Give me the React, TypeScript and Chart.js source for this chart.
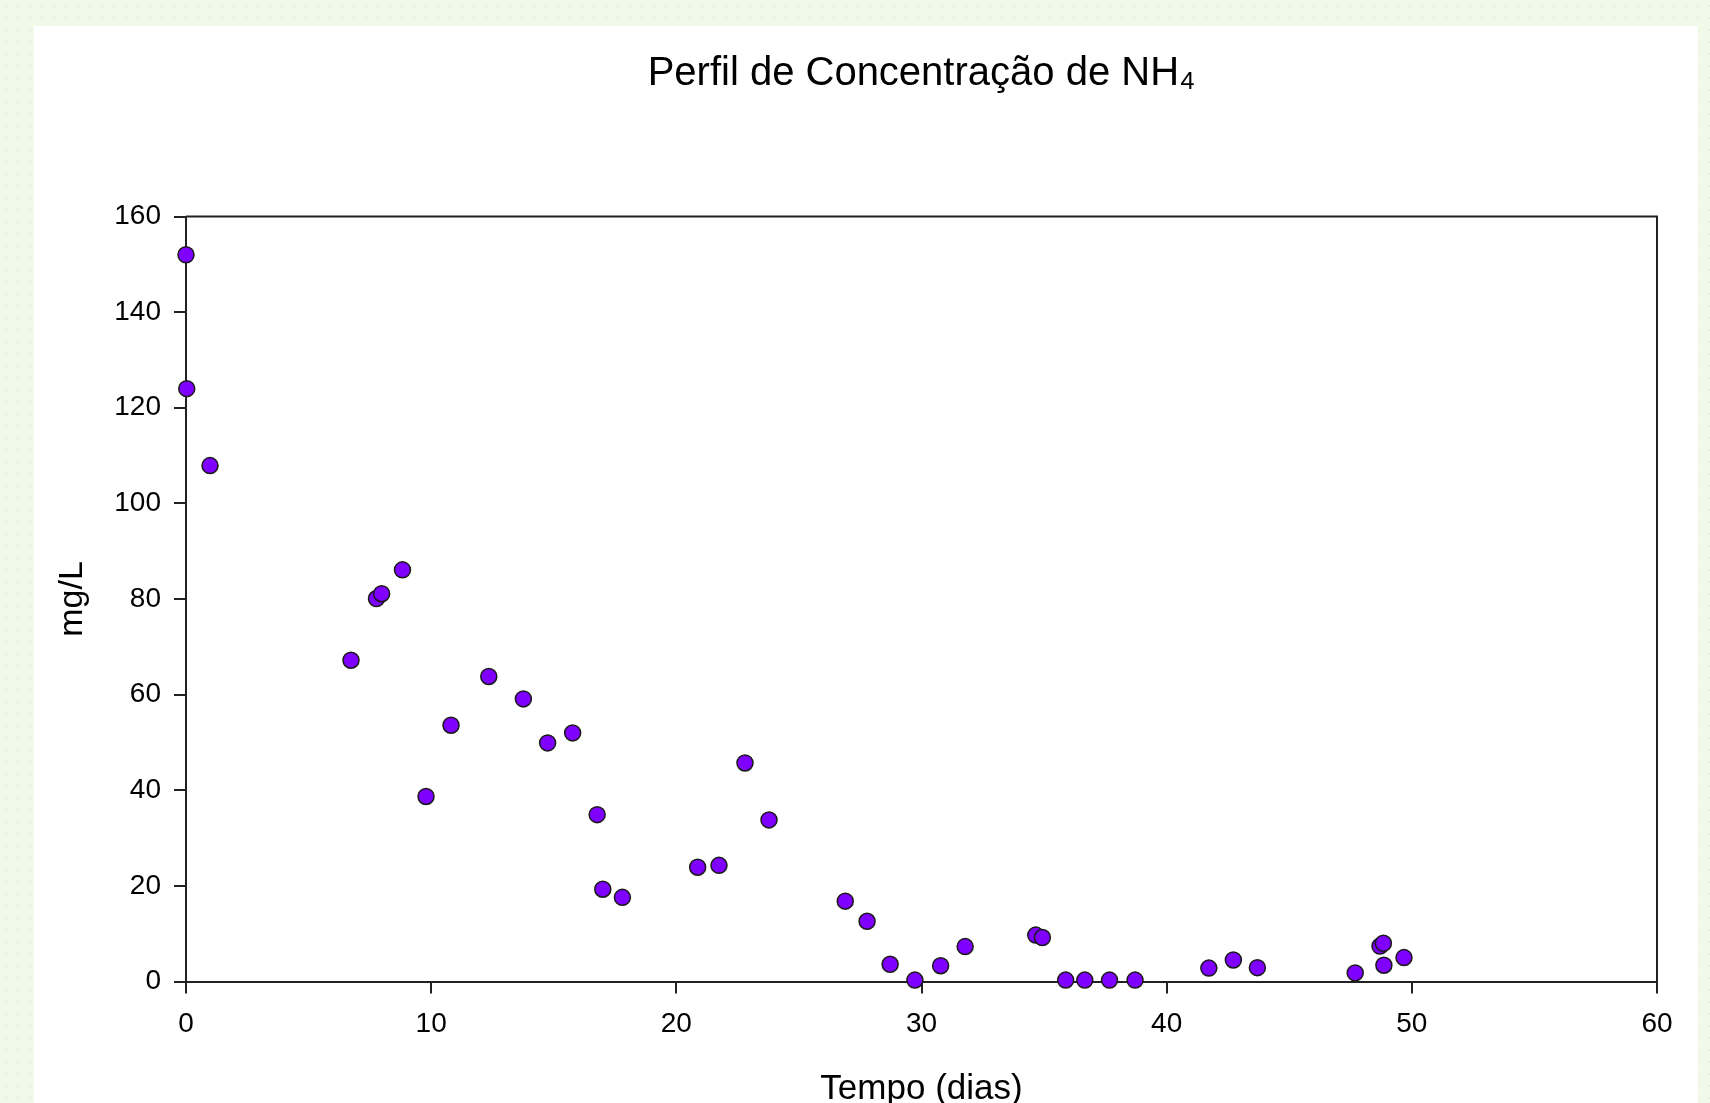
import React, { useEffect, useRef } from "react";
import { Chart, registerables } from "chart.js";

Chart.register(...registerables);

// ---- Data ----
const chartTitle = "Perfil de Concentração de NH₄";
const xAxisTitle = "Tempo (dias)";
const yAxisTitle = "mg/L";

const days: number[] = [
  0, 0.03, 0.98, 6.73, 7.77, 7.98, 8.83, 9.79, 10.81, 12.35,
  13.76, 14.75, 15.77, 16.77, 17.0, 17.8, 20.87, 21.74, 22.8, 23.78,
  26.89, 27.78, 28.72, 29.73, 30.78, 31.78, 34.66, 34.93, 35.88, 36.66,
  37.67, 38.71, 41.72, 42.72, 43.7, 47.69, 48.7, 48.84, 48.86, 49.68,
];
const nh4: number[] = [
  152.0, 124.0, 107.9, 67.2, 80.1, 81.1, 86.1, 38.7, 53.6, 63.8,
  59.1, 49.9, 52.0, 34.9, 19.3, 17.6, 23.9, 24.3, 45.7, 33.8,
  16.8, 12.6, 3.6, 0.3, 3.3, 7.3, 9.7, 9.2, 0.3, 0.3,
  0.3, 0.3, 2.8, 4.5, 2.9, 1.8, 7.4, 8.0, 3.4, 5.0,
];

const xMin = 0;
const xMax = 60;
const xStep = 10;
const yMin = 0;
const yMax = 160;
const yStep = 20;

const FONT = "'Liberation Sans', Arial, Helvetica, sans-serif";
const W = 1710;
const H = 1103;

const frameBox = {
  id: "frameBox",
  afterDatasetsDraw(chart: any) {
    const { ctx, chartArea } = chart;
    ctx.save();
    ctx.strokeStyle = "#222";
    ctx.lineWidth = 2;
    ctx.beginPath();
    ctx.moveTo(chartArea.left, chartArea.top);
    ctx.lineTo(chartArea.right, chartArea.top);
    ctx.lineTo(chartArea.right, chartArea.bottom);
    ctx.stroke();
    ctx.restore();
  },
};

export default function App() {
  const canvasRef = useRef<HTMLCanvasElement | null>(null);

  useEffect(() => {
    if (!canvasRef.current) return;
    const points = days.map((d, i) => ({ x: d, y: nh4[i] }));
    const chart = new Chart(canvasRef.current, {
      type: "scatter",
      data: {
        datasets: [
          {
            label: "NH4",
            data: points,
            pointRadius: 8,
            pointHoverRadius: 8,
            pointBackgroundColor: "#7f00ff",
            pointBorderColor: "#1a1a1a",
            pointBorderWidth: 1.5,
            clip: false,
          } as any,
        ],
      },
      options: {
        responsive: false,
        animation: false,
        devicePixelRatio: 1,
        layout: { padding: { left: 0, top: 0, right: W - 1657, bottom: 0 } },
        plugins: {
          legend: { display: false },
          tooltip: { enabled: false },
          title: {
            display: true,
            text: chartTitle,
            fullSize: false,
            color: "#000",
            font: { family: FONT, size: 40, weight: "normal", lineHeight: 1.2 },
            padding: { top: 49.5, bottom: 119 },
          },
        },
        scales: {
          x: {
            type: "linear",
            min: xMin,
            max: xMax,
            ticks: {
              stepSize: xStep,
              color: "#000",
              font: { family: FONT, size: 28 },
              padding: 14,
              maxRotation: 0,
            },
            grid: {
              display: true,
              drawOnChartArea: false,
              drawTicks: true,
              tickLength: 12,
              color: "#222",
              lineWidth: 2,
            },
            border: { display: true, color: "#222", width: 2 },
            title: {
              display: true,
              text: xAxisTitle,
              color: "#000",
              font: { family: FONT, size: 35, lineHeight: 0.78 },
              padding: { top: 0, bottom: 0 },
            },
            afterFit(scale: any) {
              scale.height = H - 981.5;
            },
          },
          y: {
            type: "linear",
            min: yMin,
            max: yMax,
            ticks: {
              stepSize: yStep,
              color: "#000",
              font: { family: FONT, size: 28 },
              padding: 13,
            },
            grid: {
              display: true,
              drawOnChartArea: false,
              drawTicks: true,
              tickLength: 12,
              color: "#222",
              lineWidth: 2,
            },
            border: { display: true, color: "#222", width: 2 },
            title: {
              display: true,
              text: yAxisTitle,
              color: "#000",
              font: { family: FONT, size: 34, lineHeight: 1.2 },
              padding: { top: 52, bottom: 0 },
            },
            afterFit(scale: any) {
              scale.width = 186;
            },
          },
        },
      },
      plugins: [frameBox],
    });
    return () => chart.destroy();
  }, []);

  return (
    <div
      style={{
        position: "fixed",
        left: 0,
        top: 0,
        width: W,
        height: H,
        overflow: "hidden",
        backgroundColor: "#f1f9e9",
        backgroundImage:
          "radial-gradient(circle, #e3efd6 1px, transparent 1.6px)",
        backgroundSize: "12px 12px",
      }}
    >
      <div
        style={{
          position: "absolute",
          left: 34,
          top: 26,
          width: 1698 - 34,
          height: H - 26,
          background: "#ffffff",
        }}
      />
      <canvas
        ref={canvasRef}
        width={W}
        height={H}
        style={{ position: "absolute", left: 0, top: 0, width: W, height: H }}
      />
    </div>
  );
}
